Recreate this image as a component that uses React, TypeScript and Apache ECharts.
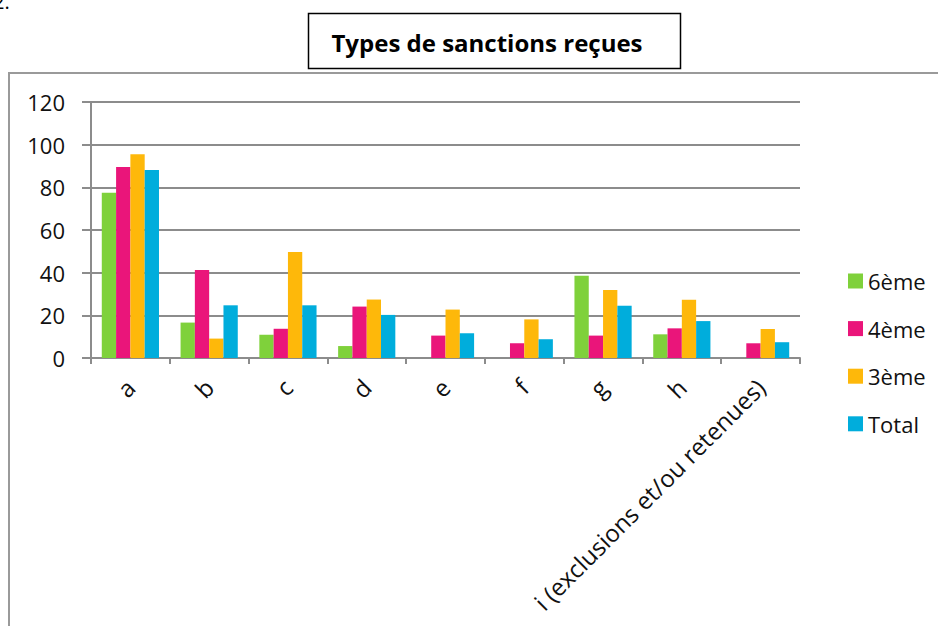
import React, { useEffect, useRef } from "react";
import * as echarts from "echarts";

const categories = ["a", "b", "c", "d", "e", "f", "g", "h", "i (exclusions et/ou retenues)"];
const sixieme = [77.5, 16.6, 10.9, 5.6, 0, 0, 38.6, 11.1, 0];
const quatrieme = [89.5, 41.3, 13.7, 24.1, 10.5, 6.9, 10.5, 13.9, 6.9];
const troisieme = [95.5, 9.1, 49.7, 27.4, 22.7, 18.1, 31.9, 27.3, 13.6];
const total = [88.1, 24.7, 24.7, 20.2, 11.6, 8.8, 24.5, 17.3, 7.4];

const seriesNames = ["6ème", "4ème", "3ème", "Total"];
const seriesColors = ["#7FD13B", "#EA157A", "#FEB80A", "#00ADDC"];
const yTicks = { min: 0, max: 120, interval: 20 };
const titleText = "Types de sanctions reçues";

const FONT = "'Open Sans', 'Noto Sans', sans-serif";

export default function App() {
  const ref = useRef<HTMLDivElement>(null);
  useEffect(() => {
    if (!ref.current) return;
    const chart = echarts.init(ref.current, undefined, { renderer: "svg" });
    const values = [sixieme, quatrieme, troisieme, total];
    chart.setOption({
      animation: false,
      backgroundColor: "#ffffff",
      textStyle: { fontFamily: FONT },
      grid: { left: 91, right: 138, top: 102, bottom: 268, containLabel: false },
      legend: {
        orient: "vertical",
        left: 843,
        top: 265,
        itemWidth: 15,
        itemHeight: 15,
        itemGap: 25.6,
        icon: "rect",
        textStyle: { fontFamily: FONT, fontSize: 22, color: "#111" },
        data: seriesNames,
      },
      xAxis: {
        type: "category",
        data: categories,
        axisLine: { show: true, lineStyle: { color: "#8c8c8c", width: 2 } },
        axisTick: { show: true, length: 6, lineStyle: { color: "#8c8c8c", width: 2 } },
        axisLabel: {
          rotate: 45,
          margin: 25,
          interval: 0,
          fontFamily: FONT,
          fontSize: 24,
          color: "#111",
        },
      },
      yAxis: {
        type: "value",
        min: yTicks.min,
        max: yTicks.max,
        interval: yTicks.interval,
        axisLine: { show: true, lineStyle: { color: "#8c8c8c", width: 2 } },
        axisTick: { show: true, length: 9, lineStyle: { color: "#8c8c8c", width: 2 } },
        splitLine: { show: true, lineStyle: { color: "#8c8c8c", width: 2 } },
        axisLabel: { margin: 26, fontFamily: FONT, fontSize: 22, color: "#111" },
      },
      series: seriesNames.map((name, i) => ({
        name,
        type: "bar",
        data: values[i],
        barWidth: 14.3,
        barGap: "0%",
        itemStyle: { color: seriesColors[i] },
      })),
      graphic: [
        {
          type: "rect",
          shape: { x: 9, y: 73, width: 1000, height: 700 },
          style: { fill: "none", stroke: "#9a9a9a", lineWidth: 2 },
          z: -1,
        },
        {
          type: "rect",
          shape: { x: 308.5, y: 13.5, width: 372, height: 55 },
          style: { fill: "#fff", stroke: "#000", lineWidth: 1.5 },
        },
        {
          type: "text",
          x: 487,
          y: 42,
          style: {
            text: titleText,
            fill: "#000",
            font: `bold 24px ${FONT}`,
            textAlign: "center",
            textVerticalAlign: "middle",
          },
        },
        {
          type: "text",
          x: -7,
          y: -9,
          style: { text: "2.", fill: "#000", font: `20px ${FONT}` },
        },
      ],
    });
    return () => chart.dispose();
  }, []);
  return (
    <div
      ref={ref}
      style={{ position: "absolute", left: 0, top: 0, width: 938, height: 626 }}
    />
  );
}
